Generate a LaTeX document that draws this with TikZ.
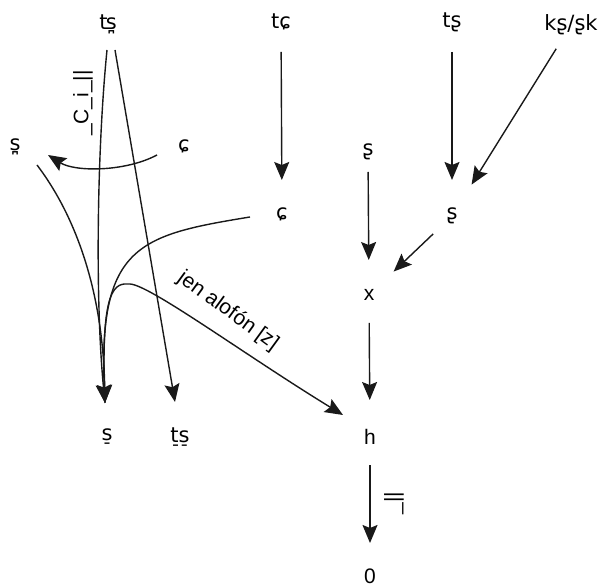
\documentclass[tikz,border=0pt]{standalone}
\usepackage{fontspec}
\setmainfont{Liberation Sans}
\newfontfamily\ipa{DejaVu Sans}
\usetikzlibrary{arrows.meta,calc}
\begin{document}
\begin{tikzpicture}[x=1pt,y=1pt,
  lbl/.style={font=\fontsize{21}{21}\selectfont, inner sep=0pt},
  ipl/.style={font=\ipa\fontsize{21}{21}\selectfont, inner sep=0pt},
  arr/.style={line width=1.4pt, draw=black!90, -{Stealth[length=18pt,width=15pt,inset=3pt]}},
  ln/.style={line width=1.3pt, draw=black!90}]
\useasboundingbox (0,0) rectangle (600,587);
% nodes
\node[ipl] (T1) at (108,563) {ʦ̪};
\node[ipl] (Tc) at (281,565) {tɕ};
\node[ipl] (Ts) at (452,565) {tʂ};
\node[ipl] (Ks) at (571,562) {kʂ/ʂk};
\node[ipl] (Sl) at (15,440) {s̪};
\node[ipl] (C1) at (184,441) {ɕ};
\node[ipl] (S1) at (368,435) {ʂ};
\node[ipl] (C2) at (282,373) {ɕ};
\node[ipl] (S2) at (452,371) {ʂ};
\node[lbl] (X) at (369,292) {x};
\node[ipl] (Sb) at (107,150) {s̠};
\node[ipl] (TSb) at (180,150) {t̠s̠};
\node[lbl] (H) at (370,150) {h};
\node[lbl] (Z) at (370,11) {0};
% straight arrows
\draw[arr, shorten <=30pt, shorten >=34pt] (Tc.center) -- (C2.center);
\draw[arr, shorten <=30pt, shorten >=36pt] (Ts.center) -- (S2.center);
\draw[arr, shorten <=28pt, shorten >=37pt] (Ks.center) -- (S2.center);
\draw[arr, shorten <=20pt, shorten >=35pt] (S1.center) -- (X.center);
\draw[arr, shorten <=26pt, shorten >=34pt] (S2.center) -- (X.center);
\draw[arr, shorten <=28pt, shorten >=37pt] (X.center) -- (H.center);
\draw[arr, shorten <=28pt, shorten >=33pt] (H.center) -- (Z.center);
\node[lbl, rotate=90] (L2) at (394,84) {\_||};
% left bundle
\draw[arr] ($(T1)+(-1,-26)$) .. controls (97,437) and (95,287) .. ($(Sb)+(-2,34)$);
\draw[arr] ($(T1)+(7,-26)$) -- ($(TSb)+(-5,35)$);
\draw[arr] ($(C1)+(-27,-9)$) .. controls (125,415) and (75,415) .. ($(Sl)+(33,-8)$);
\draw[arr] ($(Sl)+(22,-18)$) .. controls (75,372) and (103,297) .. ($(Sb)+(-2,34)$);
\draw[arr] ($(C2)+(-32,-3)$) .. controls (140,352) and (98,342) .. ($(Sb)+(-2,34)$);
\draw[arr] ($(Sb)+(-2,34)$) .. controls (100,302) and (115,304) .. (130,303)
  .. controls (150,302) and (245,232) .. ($(H)+(-27,22)$);
\node[lbl, rotate=-36] (J) at (228,276) {jen alofón [z]};
\node[lbl, rotate=90] (L1) at (83,484) {\_C\_i\_||};
\end{tikzpicture}
\end{document}
